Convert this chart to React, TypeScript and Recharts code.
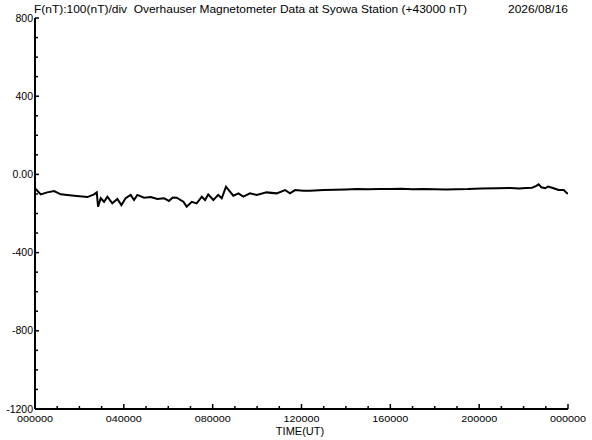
import { LineChart, Line, XAxis, YAxis } from 'recharts';

// hours since 00 UT
const hours = [
  0, 0.26, 0.55, 0.86, 1.16, 1.76, 2.36, 2.66, 2.78, 2.84, 2.96, 3.11, 3.26, 3.48, 3.71, 3.89,
  4.08, 4.31, 4.46, 4.61, 4.91, 5.21, 5.51, 5.81, 6.03, 6.2, 6.38, 6.68, 6.83, 7.06, 7.28, 7.51,
  7.66, 7.8, 8.03, 8.25, 8.41, 8.6, 8.78, 8.93, 9.16, 9.38, 9.68, 9.98, 10.43, 10.88, 11.26, 11.48,
  11.71, 12.08, 12.38, 13.0, 13.5, 14.0, 14.5, 15.0, 15.5, 16.0, 16.5, 17.0, 17.5, 18.0, 18.5, 19.0,
  19.5, 20.1, 20.8, 21.4, 21.8, 22.1, 22.38, 22.55, 22.68, 22.8, 22.98, 23.1, 23.28, 23.45, 23.58,
  23.81, 23.96, 24,
];

// F - 43000 nT
const fValues = [
  -71, -102, -92, -85, -102, -109, -116, -102, -92, -165, -122, -140, -114, -148, -126, -157,
  -122, -105, -131, -105, -119, -116, -126, -122, -136, -118, -119, -140, -165, -140, -148, -114,
  -131, -102, -131, -105, -122, -63, -88, -109, -97, -114, -97, -105, -92, -97, -80, -97,
  -80, -83, -83, -80, -78, -77, -75, -76, -75, -75, -74, -76, -75, -76, -77, -76,
  -75, -72, -71, -70, -72, -70, -68, -60, -51, -66, -71, -62, -68, -75, -80,
  -80, -97, -95,
];

const hourTicks = [0, 1, 2, 3, 4, 5, 6, 7, 8, 9, 10, 11, 12, 13, 14, 15, 16, 17, 18, 19, 20, 21, 22, 23, 24];
const hourLabels = ['000000', '040000', '080000', '120000', '160000', '200000', '000000'];
const nTTicks = [-1200, -1100, -1000, -900, -800, -700, -600, -500, -400, -300, -200, -100, 0, 100, 200, 300, 400, 500, 600, 700, 800];

const data = hours.map((t, i) => ({ t, f: fValues[i] }));

const FONT = '"Liberation Sans", Arial, sans-serif';

function BottomTick({ x, y, payload }: any) {
  const major = payload.value % 4 === 0;
  return (
    <g>
      <line x1={x} x2={x} y1={y} y2={y - (major ? 5 : 3)} stroke="#000" strokeWidth={1.5} />
      {major && (
        <text x={x} y={y + 13} textAnchor="middle" fontSize={9} fontFamily={FONT} fill="#000"
          textLength={36} lengthAdjust="spacingAndGlyphs">
          {hourLabels[payload.value / 4]}
        </text>
      )}
    </g>
  );
}

function TopTick({ x, y, payload }: any) {
  const major = payload.value % 4 === 0;
  return <line x1={x} x2={x} y1={y} y2={y + (major ? 5 : 3)} stroke="#000" strokeWidth={1.5} />;
}

function LeftTick({ x, y, payload }: any) {
  const major = payload.value % 400 === 0;
  return (
    <g>
      <line x1={x} x2={x + (major ? 4 : 3)} y1={y} y2={y} stroke="#000" strokeWidth={1.5} />
      {major && (
        <text x={x - 2} y={y} dy={3.5} textAnchor="end" fontSize={10.5} fontFamily={FONT} fill="#000">
          {payload.value === 0 ? '0.00' : payload.value}
        </text>
      )}
    </g>
  );
}

function RightTick({ x, y }: any) {
  return <line x1={x} x2={x - 3} y1={y} y2={y} stroke="#000" strokeWidth={1.5} />;
}

export default function App() {
  return (
    <div style={{ position: 'absolute', left: 0, top: 0, width: 592, height: 440, background: '#fff' }}>
      <LineChart width={592} height={440} data={data} margin={{ top: 18, right: 24, left: 0, bottom: 0 }}>
        <XAxis xAxisId="bottom" dataKey="t" type="number" domain={[0, 24]} ticks={hourTicks} interval={0}
          allowDataOverflow height={31} tickSize={0} tickMargin={0} tickLine={false}
          axisLine={{ stroke: '#000', strokeWidth: 2 }} tick={<BottomTick />} />
        <XAxis xAxisId="top" orientation="top" dataKey="t" type="number" domain={[0, 24]} ticks={hourTicks}
          interval={0} allowDataOverflow height={0} tickSize={0} tickMargin={0} tickLine={false}
          axisLine={{ stroke: '#000', strokeWidth: 2 }} tick={<TopTick />} />
        <YAxis yAxisId="left" type="number" domain={[-1200, 800]} ticks={nTTicks} interval={0}
          allowDataOverflow width={35} tickSize={0} tickMargin={0} tickLine={false}
          axisLine={{ stroke: '#000', strokeWidth: 2 }} tick={<LeftTick />} />
        <YAxis yAxisId="right" orientation="right" type="number" domain={[-1200, 800]} ticks={nTTicks}
          interval={0} allowDataOverflow width={0} tickSize={0} tickMargin={0} tickLine={false}
          axisLine={{ stroke: '#000', strokeWidth: 2 }} tick={<RightTick />} />
        <Line xAxisId="bottom" yAxisId="left" dataKey="f" type="linear" stroke="#000" strokeWidth={2}
          dot={false} isAnimationActive={false} />
      </LineChart>
      <svg width={592} height={440} style={{ position: 'absolute', left: 0, top: 0, pointerEvents: 'none' }}>
        <text x={34} y={13} fontSize={11} fontFamily={FONT} fill="#000" textLength={433}
          lengthAdjust="spacingAndGlyphs" style={{ whiteSpace: 'pre' }}>
          F(nT):100(nT)/div  Overhauser Magnetometer Data at Syowa Station (+43000 nT)
        </text>
        <text x={508} y={13} fontSize={11} fontFamily={FONT} fill="#000" textLength={60}
          lengthAdjust="spacingAndGlyphs">
          2026/08/16
        </text>
        <text x={300} y={434.5} textAnchor="middle" fontSize={11} fontFamily={FONT} fill="#000">
          TIME(UT)
        </text>
      </svg>
    </div>
  );
}
